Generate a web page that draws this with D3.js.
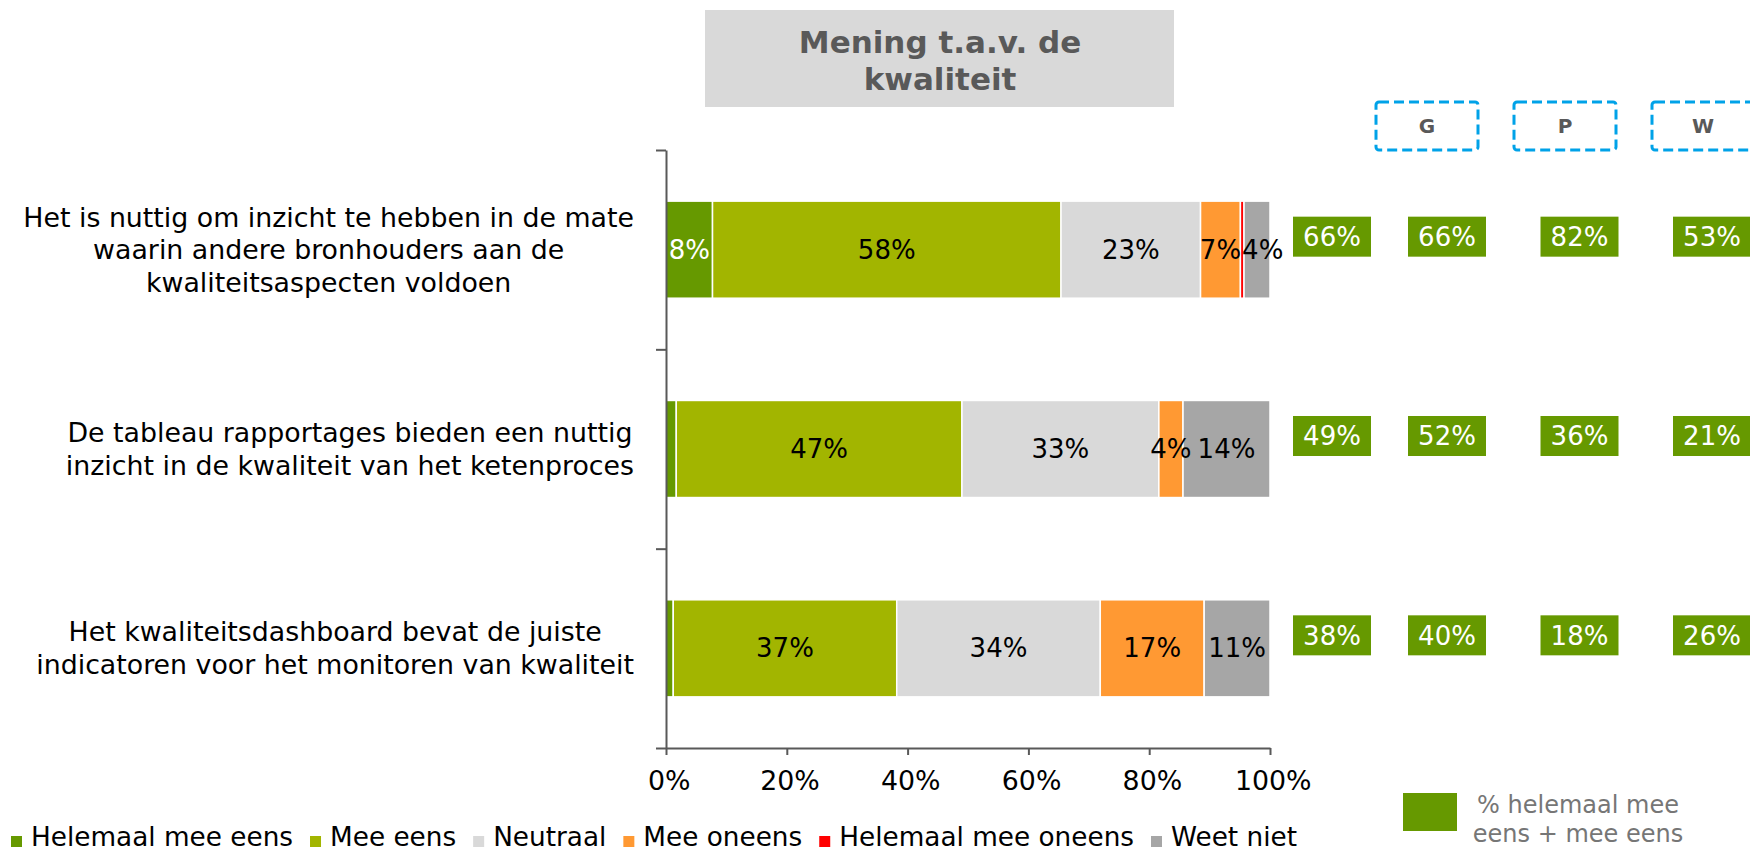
<!DOCTYPE html>
<html lang="nl">
<head>
  <meta charset="UTF-8">
  <title>Mening t.a.v. de kwaliteit</title>
  <style>
    html, body { margin: 0; padding: 0; background: #fff; overflow: hidden; }
    svg { display: block; font-family: "DejaVu Sans", Verdana, sans-serif; }
  </style>
</head>
<body>
  <div id="chart"></div>

  <script src="https://d3js.org/d3.v7.min.js"></script>
  <script>
    // stellingen (row labels, already wrapped as in the original)
    const statements = [
      ["Het is nuttig om inzicht te hebben in de mate", "waarin andere bronhouders aan de", "kwaliteitsaspecten voldoen"],
      ["De tableau rapportages bieden een nuttig", "inzicht in de kwaliteit van het ketenproces"],
      ["Het kwaliteitsdashboard bevat de juiste", "indicatoren voor het monitoren van kwaliteit"]
    ];

    const answerNames = ["Helemaal mee eens", "Mee eens", "Neutraal", "Mee oneens", "Helemaal mee oneens", "Weet niet"];
    const answerColors = ["#669900", "#A2B500", "#D9D9D9", "#FF9933", "#FF0000", "#A6A6A6"];

    // percentages per answer, one value per statement
    const helemaalMeeEens   = [7.7, 1.7, 1.2];
    const meeEens           = [57.7, 47.3, 37.0];
    const neutraal          = [23.1, 32.6, 33.7];
    const meeOneens         = [6.6, 4.0, 17.2];
    const helemaalMeeOneens = [0.6, 0, 0];
    const weetNiet          = [4.3, 14.4, 10.9];

    // % helemaal mee eens + mee eens, totaal and per groep
    const regions = ["G", "P", "W"];
    const agreeTotal = [66, 49, 38];
    const agreeG = [66, 52, 40];
    const agreeP = [82, 36, 18];
    const agreeW = [53, 21, 26];

    const xTicks = [0, 20, 40, 60, 80, 100];
    const titleLines = ["Mening t.a.v. de", "kwaliteit"];
    const sideLegendLines = ["% helemaal mee", "eens + mee eens"];

    const width = 1750, height = 852;
    const axisColor = "#595959";
    const fontSize = 26;
    const labelFont = 26.8;

    const svg = d3.select("#chart").append("svg")
      .attr("width", width)
      .attr("height", height);

    // table for the stack
    const seriesValues = [helemaalMeeEens, meeEens, neutraal, meeOneens, helemaalMeeOneens, weetNiet];
    const table = statements.map((s, i) => {
      const row = { idx: i };
      answerNames.forEach((name, k) => { row[name] = seriesValues[k][i]; });
      return row;
    });
    const stacked = d3.stack().keys(answerNames)(table);

    const x = d3.scaleLinear().domain([0, 100]).range([666, 1270]);
    const y = d3.scaleBand()
      .domain(d3.range(statements.length))
      .range([150, 748])
      .paddingInner(0.513)
      .paddingOuter(0.2565);
    const yEdge = d3.scaleLinear().domain([0, statements.length]).range([150, 748]);
    const color = d3.scaleOrdinal().domain(answerNames).range(answerColors);

    // title box
    const title = svg.append("g");
    title.append("rect")
      .attr("x", 705).attr("y", 10)
      .attr("width", 469).attr("height", 97)
      .attr("fill", "#D9D9D9");
    title.selectAll("text")
      .data(titleLines)
      .enter()
      .append("text")
      .attr("x", 940)
      .attr("y", (d, i) => 53 + i * 37)
      .attr("text-anchor", "middle")
      .attr("font-size", 31)
      .attr("font-weight", "bold")
      .attr("fill", "#595959")
      .text(d => d);

    // stacked bars
    const layers = svg.append("g").selectAll("g")
      .data(stacked)
      .enter()
      .append("g")
      .attr("fill", d => color(d.key));

    layers.selectAll("rect")
      .data(d => d)
      .enter()
      .append("rect")
      .attr("x", d => x(d[0]))
      .attr("y", d => y(d.data.idx))
      .attr("width", d => Math.max(0, x(d[1]) - x(d[0])))
      .attr("height", y.bandwidth())
      .attr("stroke", "#fff")
      .attr("stroke-width", 1.5);

    // value labels, pushed right when they would run into the previous one
    const labelG = svg.append("g");
    d3.range(statements.length).forEach(i => {
      let lastEnd = -Infinity;
      stacked.forEach(layer => {
        const d = layer[i];
        const v = d[1] - d[0];
        if (v < 2) return;
        const t = labelG.append("text")
          .attr("y", y(i) + y.bandwidth() / 2)
          .attr("dy", "0.35em")
          .attr("font-size", fontSize)
          .attr("fill", layer.key === "Helemaal mee eens" ? "#fff" : "#000")
          .text(Math.round(v) + "%");
        const w = t.node().getComputedTextLength();
        let left = x((d[0] + d[1]) / 2) - w / 2;
        if (left < lastEnd + 1) left = lastEnd + 1;
        t.attr("x", left);
        lastEnd = left + w;
      });
    });

    // axes
    const xAxis = svg.append("g")
      .attr("transform", `translate(0, 748)`)
      .call(d3.axisBottom(x)
        .tickValues(xTicks)
        .tickFormat(d => d + "%")
        .tickSize(7)
        .tickSizeOuter(0)
        .tickPadding(16));
    xAxis.selectAll("text").attr("font-size", labelFont).attr("fill", "#000").attr("dx", "0.1em");
    xAxis.attr("font-family", null);

    const yAxis = svg.append("g")
      .attr("transform", `translate(666, 0)`)
      .call(d3.axisLeft(yEdge)
        .tickValues(d3.range(statements.length + 1))
        .tickFormat("")
        .tickSize(10)
        .tickSizeOuter(0));

    [xAxis, yAxis].forEach(a => {
      a.selectAll("path, line").attr("stroke", axisColor).attr("stroke-width", 2);
    });

    // row labels: lines centred within a block that is right-aligned to the axis
    statements.forEach((lines, i) => {
      const g = svg.append("g");
      const cy = y(i) + y.bandwidth() / 2;
      const texts = g.selectAll("text")
        .data(lines)
        .enter()
        .append("text")
        .attr("y", (d, k) => cy + (k - (lines.length - 1) / 2) * 32.5)
        .attr("dy", "0.35em")
        .attr("text-anchor", "middle")
        .attr("font-size", labelFont)
        .attr("fill", "#000")
        .text(d => d);
      const blockW = d3.max(texts.nodes(), n => n.getComputedTextLength());
      texts.attr("x", 634 - blockW / 2);
    });

    // summary boxes
    const colX = d3.scalePoint().domain(regions).range([1447, 1712]);
    const headX = d3.scalePoint().domain(regions).range([1427, 1703]);
    const columns = [
      { key: "Totaal", cx: colX("G") - 115, values: agreeTotal },
      { key: "G", cx: colX("G"), values: agreeG },
      { key: "P", cx: colX("P"), values: agreeP },
      { key: "W", cx: colX("W"), values: agreeW }
    ];
    const boxW = 78, boxH = 40;

    columns.forEach(col => {
      const cells = svg.append("g").selectAll("g")
        .data(col.values)
        .enter()
        .append("g")
        .attr("transform", (d, i) => `translate(${col.cx}, ${y(i) + y.bandwidth() / 2 - 13})`);
      cells.append("rect")
        .attr("x", -boxW / 2).attr("y", -boxH / 2)
        .attr("width", boxW).attr("height", boxH)
        .attr("fill", "#669900");
      cells.append("text")
        .attr("dy", "0.36em")
        .attr("text-anchor", "middle")
        .attr("font-size", fontSize)
        .attr("fill", "#fff")
        .text(d => d + "%");
    });

    // dashed group headers
    const heads = svg.append("g").selectAll("g")
      .data(regions)
      .enter()
      .append("g")
      .attr("transform", d => `translate(${headX(d)}, 126)`);
    heads.append("rect")
      .attr("x", -51).attr("y", -24)
      .attr("width", 102).attr("height", 48)
      .attr("rx", 3)
      .attr("fill", "none")
      .attr("stroke", "#00A2E8")
      .attr("stroke-width", 3)
      .attr("stroke-dasharray", "10,5");
    heads.append("text")
      .attr("dy", "0.36em")
      .attr("text-anchor", "middle")
      .attr("font-size", 20)
      .attr("font-weight", "bold")
      .attr("fill", "#595959")
      .text(d => d);

    // bottom legend
    const legend = svg.append("g");
    let lx = 11;
    answerNames.forEach(name => {
      legend.append("rect")
        .attr("x", lx).attr("y", 836)
        .attr("width", 11).attr("height", 11)
        .attr("fill", color(name));
      const t = legend.append("text")
        .attr("x", lx + 20)
        .attr("y", 846)
        .attr("font-size", 26.3)
        .attr("fill", "#000")
        .text(name);
      lx += 20 + t.node().getComputedTextLength() + 17;
    });

    // side legend
    svg.append("rect")
      .attr("x", 1403).attr("y", 793)
      .attr("width", 54).attr("height", 38)
      .attr("fill", "#669900");
    svg.append("g").selectAll("text")
      .data(sideLegendLines)
      .enter()
      .append("text")
      .attr("x", 1578)
      .attr("y", (d, i) => 813 + i * 29)
      .attr("text-anchor", "middle")
      .attr("font-size", 24)
      .attr("fill", "#767676")
      .text(d => d);
  </script>
</body>
</html>
